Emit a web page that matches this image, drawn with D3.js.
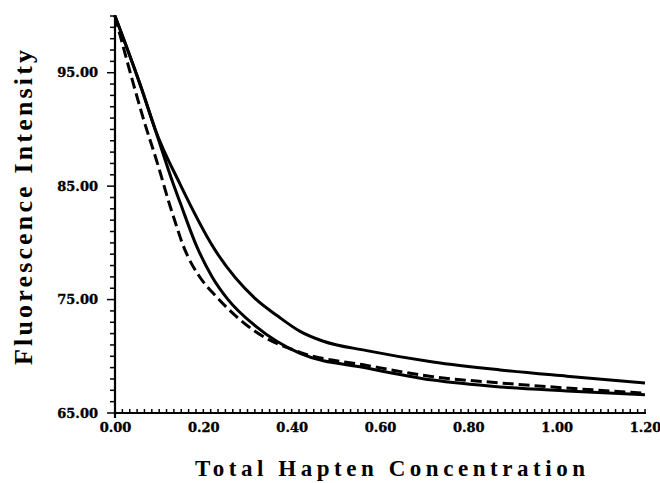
<!DOCTYPE html>
<html>
<head>
<meta charset="utf-8">
<script src="https://cdn.jsdelivr.net/npm/d3@7"></script>
<style>
  html, body { margin: 0; padding: 0; background: #fff; }
  svg { display: block; }
</style>
</head>
<body>
<svg id="chart" width="660" height="483"></svg>
<script>
// ---- data ----
const concA  = [0, 0.061, 0.091, 0.147, 0.226, 0.317, 0.370, 0.419, 0.470, 0.570, 0.720, 0.872, 1.023, 1.200];
const fluorA = [100, 93.5, 90.0, 85.2, 79.4, 75.1, 73.5, 72.2, 71.35, 70.5, 69.5, 68.8, 68.25, 67.65];

const concB  = [0, 0.061, 0.091, 0.131, 0.147, 0.186, 0.220, 0.256, 0.317, 0.419, 0.570, 0.720, 0.872, 1.023, 1.200];
const fluorB = [100, 93.5, 90.0, 85.3, 83.6, 79.6, 77.0, 75.0, 72.7, 70.25, 68.97, 67.9, 67.3, 66.95, 66.6];

const concD  = [0, 0.041, 0.063, 0.097, 0.125, 0.140, 0.152, 0.165, 0.190, 0.231, 0.317, 0.419, 0.570, 0.720, 0.872, 1.023, 1.200];
const fluorD = [100, 94.1, 91.1, 86.9, 83.2, 81.4, 80.0, 78.8, 77.1, 75.2, 72.2, 70.35, 69.2, 68.2, 67.65, 67.2, 66.75];

const xTickValues = [0, 0.2, 0.4, 0.6, 0.8, 1.0, 1.2];
const yTickValues = [65, 75, 85, 95];
const xTitle = "Total Hapten Concentration";
const yTitle = "Fluorescence Intensity";

// ---- layout ----
const svg = d3.select("#chart");
const mLeft = 115, mRight = 645, mTop = 16, mBottom = 413;

const x = d3.scaleLinear().domain([0, 1.2]).range([mLeft, mRight]);
const y = d3.scaleLinear().domain([65, 100]).range([mBottom, mTop]);

const fmt = d3.format(".2f");
const tickFont = "'DejaVu Serif', serif";

// minor x ticks (inside, upward)
const xMinor = d3.range(0, 73).map(i => i * 0.2 / 12);
svg.append("g").selectAll("line").data(xMinor).join("line")
  .attr("x1", d => x(d)).attr("x2", d => x(d))
  .attr("y1", mBottom).attr("y2", mBottom - 4)
  .attr("stroke", "#000").attr("stroke-width", 1.5);

// minor y ticks (outside, leftward)
const yMinor = d3.range(65, 101, 1);
svg.append("g").selectAll("line").data(yMinor).join("line")
  .attr("x1", mLeft).attr("x2", d => mLeft - (yTickValues.includes(d) ? 8 : 5))
  .attr("y1", d => y(d)).attr("y2", d => y(d))
  .attr("stroke", "#000").attr("stroke-width", 1.5);

// axes via d3 axis generators (labels)
const xAxis = svg.append("g").attr("transform", `translate(0,${mBottom})`)
  .call(d3.axisBottom(x).tickValues(xTickValues).tickFormat(fmt).tickSize(0).tickPadding(10));
const yAxis = svg.append("g").attr("transform", `translate(${mLeft},0)`)
  .call(d3.axisLeft(y).tickValues(yTickValues).tickFormat(fmt).tickSize(0).tickPadding(17));

[xAxis, yAxis].forEach(g => {
  g.select(".domain").remove();
  g.selectAll("text")
    .attr("font-family", tickFont)
    .attr("font-weight", "bold")
    .attr("font-size", 13)
    .attr("fill", "#000")
    .attr("stroke", "#000")
    .attr("stroke-width", 0.35);
});

// axis lines
svg.append("line").attr("x1", mLeft).attr("x2", mRight + 1)
  .attr("y1", mBottom).attr("y2", mBottom)
  .attr("stroke", "#000").attr("stroke-width", 2.2);
svg.append("line").attr("x1", mLeft).attr("x2", mLeft)
  .attr("y1", mTop - 1).attr("y2", mBottom + 5)
  .attr("stroke", "#000").attr("stroke-width", 2.2);

// curves
const line = d3.line().x(d => x(d[0])).y(d => y(d[1])).curve(d3.curveMonotoneX);
const series = [
  {c: concA, f: fluorA, dash: null},
  {c: concB, f: fluorB, dash: null},
  {c: concD, f: fluorD, dash: "11,5"}
];
svg.append("g").selectAll("path").data(series).join("path")
  .attr("d", s => line(d3.zip(s.c, s.f)))
  .attr("fill", "none")
  .attr("stroke", "#000")
  .attr("stroke-width", 3)
  .attr("stroke-dasharray", s => s.dash);

// titles
svg.append("text")
  .attr("x", 390).attr("y", 476)
  .attr("text-anchor", "middle")
  .attr("font-family", "'Liberation Serif', serif")
  .attr("font-weight", "bold")
  .attr("font-size", 23)
  .attr("textLength", 390).attr("lengthAdjust", "spacing")
  .text(xTitle);

svg.append("text")
  .attr("transform", `translate(32,${(50 + 365) / 2}) rotate(-90)`)
  .attr("text-anchor", "middle")
  .attr("font-family", "'Liberation Serif', serif")
  .attr("font-weight", "bold")
  .attr("font-size", 26)
  .attr("textLength", 315).attr("lengthAdjust", "spacing")
  .text(yTitle);
</script>
</body>
</html>
